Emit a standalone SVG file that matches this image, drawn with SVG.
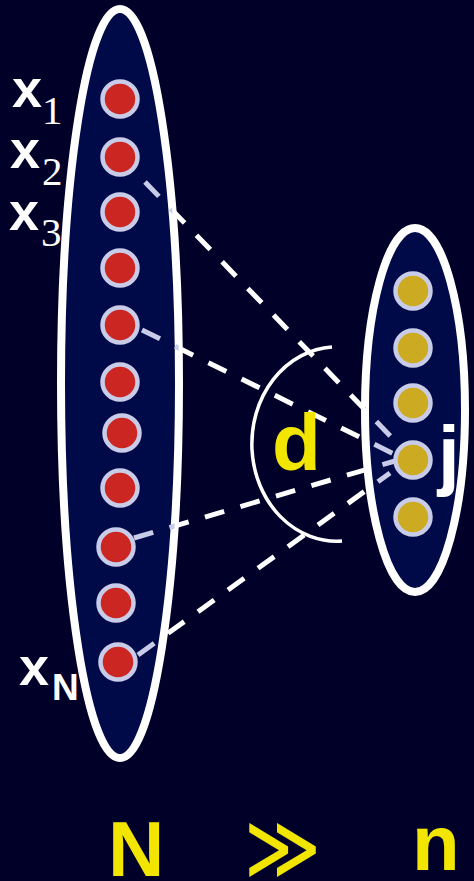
<svg xmlns="http://www.w3.org/2000/svg" width="474" height="881" viewBox="0 0 474 881">
  <defs>
    <style>
      .ell { fill: #000a48; stroke: #ffffff; stroke-width: 8; }
      .red { fill: #cc2622; stroke: #c9cce8; stroke-width: 4.5; }
      .gold { fill: #ccab22; stroke: #c9cce8; stroke-width: 4.5; }
      .dash { fill: none; stroke: #ffffff; stroke-width: 5; stroke-dasharray: 20 17; }
      .dashin { fill: none; stroke: #c9cce8; stroke-width: 5; stroke-dasharray: 20 17; }
      .lbl { fill: #ffffff; font-family: "Liberation Sans", Arial, sans-serif; font-weight: bold; }
      .sub { fill: #ffffff; font-family: "Liberation Serif", "Times New Roman", serif; }
      .yel { fill: #f2e600; font-family: "Liberation Sans", Arial, sans-serif; font-weight: bold; }
    </style>
    <clipPath id="clipL">
      <ellipse cx="120" cy="383.5" rx="59" ry="374.5"/>
    </clipPath>
    <clipPath id="clipR">
      <ellipse cx="415" cy="410" rx="50" ry="182"/>
    </clipPath>
  </defs>
  <rect x="0" y="0" width="474" height="881" fill="#000028"/>

  <g id="connectors-outside">
    <line class="dash" x1="145" y1="182" x2="400" y2="446"/>
    <line class="dash" x1="142" y1="330" x2="396" y2="455"/>
    <line class="dash" x1="134" y1="538" x2="395" y2="461"/>
    <line class="dash" x1="138" y1="655" x2="390" y2="473"/>
  </g>

  <g id="set-N">
    <ellipse class="ell" cx="120" cy="383.5" rx="59" ry="374.5"/>
  </g>
  <g id="set-n">
    <ellipse class="ell" cx="415" cy="410" rx="50" ry="182"/>
  </g>

  <g id="connectors">
    <g clip-path="url(#clipL)">
      <line class="dashin" x1="145" y1="182" x2="400" y2="446"/>
      <line class="dashin" x1="142" y1="330" x2="396" y2="455"/>
      <line class="dashin" x1="134" y1="538" x2="395" y2="461"/>
      <line class="dashin" x1="138" y1="655" x2="390" y2="473"/>
    </g>
    <g clip-path="url(#clipR)">
      <line class="dashin" x1="145" y1="182" x2="400" y2="446"/>
      <line class="dashin" x1="142" y1="330" x2="396" y2="455"/>
      <line class="dashin" x1="134" y1="538" x2="395" y2="461"/>
      <line class="dashin" x1="138" y1="655" x2="390" y2="473"/>
    </g>
    <path id="arc-d" d="M 332 347 A 85 97 0 0 0 342 541" fill="none" stroke="#ffffff" stroke-width="3.5"/>
  </g>

  <g id="nodes-x">
    <circle class="red" cx="120" cy="99" r="17.5"/>
    <circle class="red" cx="120" cy="157" r="17.5"/>
    <circle class="red" cx="120" cy="212" r="17.5"/>
    <circle class="red" cx="120" cy="268" r="17.5"/>
    <circle class="red" cx="120" cy="325" r="17.5"/>
    <circle class="red" cx="120" cy="382" r="17.5"/>
    <circle class="red" cx="122" cy="433" r="17.5"/>
    <circle class="red" cx="120" cy="488" r="17.5"/>
    <circle class="red" cx="116" cy="547" r="17.5"/>
    <circle class="red" cx="116" cy="603" r="17.5"/>
    <circle class="red" cx="118" cy="662" r="17.5"/>
  </g>

  <g id="nodes-y">
    <circle class="gold" cx="413" cy="291" r="17.5"/>
    <circle class="gold" cx="413" cy="348" r="17.5"/>
    <circle class="gold" cx="413" cy="403" r="17.5"/>
    <circle class="gold" cx="413" cy="460" r="17.5"/>
    <circle class="gold" cx="413" cy="517" r="17.5"/>
  </g>

  <g id="labels">
    <text class="lbl" x="12" y="107" font-size="54">x</text>
    <text class="sub" x="42" y="124" font-size="41">1</text>
    <text class="lbl" x="10" y="168" font-size="54">x</text>
    <text class="sub" x="42" y="185" font-size="41">2</text>
    <text class="lbl" x="9" y="230" font-size="54">x</text>
    <text class="sub" x="41" y="246" font-size="41">3</text>
    <text class="lbl" x="19" y="685" font-size="54">x</text>
    <text class="lbl" x="52" y="700" font-size="37">N</text>
    <text class="lbl" x="438" y="481" font-size="78">j</text>
    <text class="yel" x="272" y="470" font-size="80">d</text>
    <text class="yel" x="108" y="876" font-size="78">N</text>
    <text fill="#f2e600" font-size="92" font-family="'DejaVu Sans', sans-serif" transform="matrix(0.8 0 0 1 244 879)">≫</text>
    <text class="yel" x="412" y="870" font-size="78">n</text>
  </g>
</svg>
